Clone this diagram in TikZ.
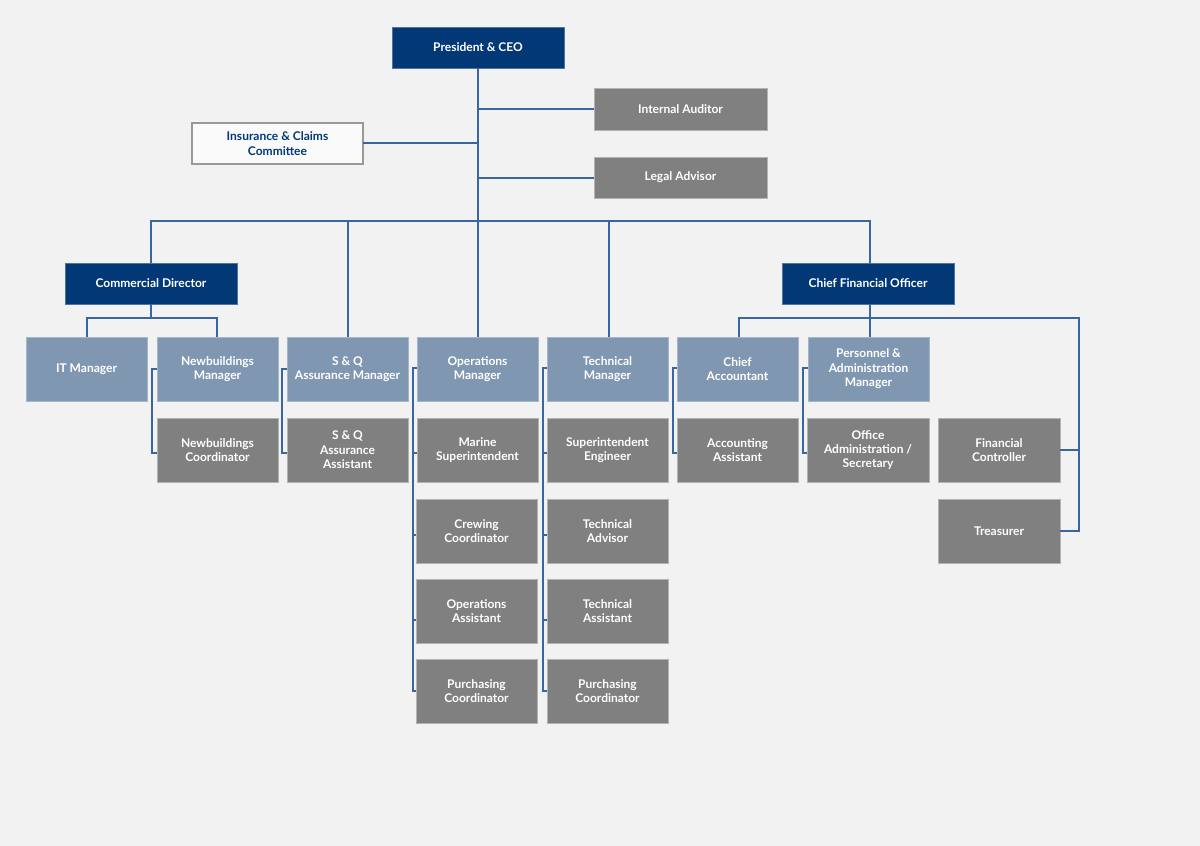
\documentclass[tikz,border=0pt]{standalone}
\usepackage{fontspec}
\setmainfont{Lato}
\definecolor{bg}{HTML}{F2F2F2}
\definecolor{navy}{HTML}{023876}
\definecolor{steel}{HTML}{8097B2}
\definecolor{grayb}{HTML}{808080}
\definecolor{conn}{HTML}{3A66A0}
\newcommand\bx[7]{\node[#6, minimum width={(#4-#2)*0.75pt}, minimum height={(#5-#3)*0.75pt}] (#1) at ({(#2+#4)/2},{(#3+#5)/2}) {#7};}
\tikzset{
  base/.style={rectangle, inner sep=0pt, outer sep=0pt, align=center, line width=0.6pt,
    font=\fontsize{9}{10.8}\selectfont\bfseries, text=white},
  navybox/.style={base, fill=navy, draw=navy!70!white},
  steelbox/.style={base, fill=steel, draw=steel!70!white},
  graybox/.style={base, fill=grayb, draw=grayb!60!white},
  whitebox/.style={base, fill=bg!40!white, draw=black!40, line width=0.9pt, text=navy},
  link/.style={draw=conn, line width=1.3pt}
}
\begin{document}
\begin{tikzpicture}[x=0.75pt,y=-0.75pt]
\fill[bg] (0,0) rectangle (1200,846);
\useasboundingbox (0,0) rectangle (1200,846);
% top
\bx{ceo}{392}{27}{564}{68}{navybox}{President \& CEO}
\bx{ia}{594}{88}{767}{130}{graybox}{Internal Auditor}
\bx{la}{594}{157}{767}{198}{graybox}{Legal Advisor}
\bx{ins}{192}{123}{363}{164}{whitebox}{Insurance \& Claims\\Committee}
\bx{cd}{65}{263}{237}{304}{navybox}{Commercial Director}
\bx{cfo}{782}{263}{954}{304}{navybox}{Chief Financial Officer}
% row 1
\bx{it}{26}{337}{147}{401}{steelbox}{IT Manager}
\bx{nbm}{157}{337}{278}{401}{steelbox}{Newbuildings\\Manager}
\bx{sqm}{287}{337}{408}{401}{steelbox}{S \& Q\\Assurance Manager}
\bx{ops}{417}{337}{538}{401}{steelbox}{Operations\\Manager}
\bx{tm}{547}{337}{668}{401}{steelbox}{Technical\\Manager}
\bx{ca}{677}{337}{798}{401}{steelbox}{Chief\\Accountant}
\bx{pam}{808}{337}{929}{401}{steelbox}{Personnel \&\\Administration\\Manager}
% row 2
\bx{nbc}{157}{418}{278}{482}{graybox}{Newbuildings\\Coordinator}
\bx{sqa}{287}{418}{408}{482}{graybox}{S \& Q\\Assurance\\Assistant}
\bx{ms}{417}{418}{538}{482}{graybox}{Marine\\Superintendent}
\bx{se}{547}{418}{668}{482}{graybox}{Superintendent\\Engineer}
\bx{aa}{677}{418}{798}{482}{graybox}{Accounting\\Assistant}
\bx{oa}{807}{418}{929}{482}{graybox}{Office\\Administration /\\Secretary}
\bx{fc}{938}{418}{1060}{482}{graybox}{Financial\\Controller}
% row 3
\bx{cc}{416}{499}{537}{563}{graybox}{Crewing\\Coordinator}
\bx{tad}{547}{499}{668}{563}{graybox}{Technical\\Advisor}
\bx{tre}{938}{499}{1060}{563}{graybox}{Treasurer}
% row 4
\bx{oas}{416}{579}{537}{643}{graybox}{Operations\\Assistant}
\bx{tas}{547}{579}{668}{643}{graybox}{Technical\\Assistant}
% row 5
\bx{pc1}{416}{659}{537}{723}{graybox}{Purchasing\\Coordinator}
\bx{pc2}{547}{659}{668}{723}{graybox}{Purchasing\\Coordinator}
% coordinates
\coordinate (top) at (478,68);
\coordinate (iaj) at (478,109);
\coordinate (insj) at (478,143);
\coordinate (laj) at (478,178);
\coordinate (bus) at (478,221);
\coordinate (sqd) at (348,221);
\coordinate (tmd) at (609,221);
\coordinate (cdj) at (151,318);
\coordinate (itd) at (87,318);
\coordinate (nbd) at (217,318);
\coordinate (cfj) at (870,318);
\coordinate (cad) at (739,318);
\coordinate (cfr) at (1079,318);
\coordinate (nbl) at (152,369);
\coordinate (sql) at (282,369);
\coordinate (opl) at (413,368);
\coordinate (tml) at (543,368);
\coordinate (cal) at (673,368);
\coordinate (pal) at (803,368);
\coordinate (nbcs) at ([yshift=-2.25pt]nbc.west);
\coordinate (sqas) at ([yshift=-2.25pt]sqa.west);
\coordinate (mss) at ([yshift=-2.25pt]ms.west);
\coordinate (ccs) at ([yshift=-3pt]cc.west);
\coordinate (oass) at ([yshift=-6.75pt]oas.west);
\coordinate (ses) at ([yshift=-2.25pt]se.west);
\coordinate (tads) at ([yshift=-3pt]tad.west);
\coordinate (tass) at ([yshift=-6.75pt]tas.west);
\coordinate (aas) at ([yshift=-2.25pt]aa.west);
\coordinate (oas2) at ([yshift=-2.25pt]oa.west);
% connectors
\begin{scope}[link]
\draw (top) -- (top |- ops.north);
\draw (iaj) -- (iaj -| ia.west);
\draw (insj) -- (insj -| ins.east);
\draw (laj) -- (laj -| la.west);
\draw (cd.north |- cd.north) -- (cdj |- bus) -- (cfj |- bus) -- (cfj |- cfo.north);
\draw (cdj |- bus) -- (cdj |- cd.north);
\draw (sqd) -- (sqd |- sqm.north);
\draw (tmd) -- (tmd |- tm.north);
\draw (cdj |- cd.south) -- (cdj);
\draw (itd |- it.north) -- (itd) -- (nbd) -- (nbd |- nbm.north);
\draw (cfj |- cfo.south) -- (cfj |- pam.north);
\draw (cad |- ca.north) -- (cad) -- (cfr) -- (cfr |- tre.east) -- (tre.east);
\draw (fc.east) -- (fc.east -| cfr);
% side links
\draw (nbm.west |- nbl) -- (nbl) |- (nbcs);
\draw (sqm.west |- sql) -- (sql) |- (sqas);
\draw (ops.west |- opl) -- (opl) |- (pc1.west);
\draw (opl |- mss) -- (mss);
\draw (opl |- ccs) -- (ccs);
\draw (opl |- oass) -- (oass);
\draw (tm.west |- tml) -- (tml) |- (pc2.west);
\draw (tml |- ses) -- (ses);
\draw (tml |- tads) -- (tads);
\draw (tml |- tass) -- (tass);
\draw (ca.west |- cal) -- (cal) |- (aas);
\draw (pam.west |- pal) -- (pal) |- (oas2);
\end{scope}
\end{tikzpicture}
\end{document}
